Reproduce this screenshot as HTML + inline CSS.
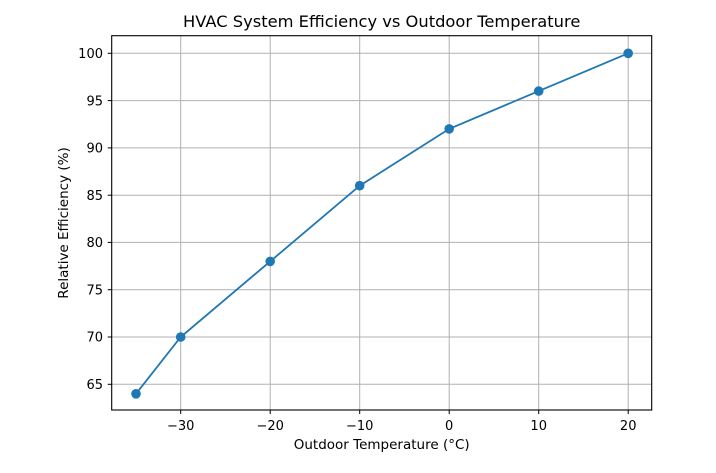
<!DOCTYPE html>
<html><head><style>body{margin:0;background:#fff}</style></head><body>
<svg width="716" height="468" xmlns="http://www.w3.org/2000/svg" font-family="DejaVu Sans, Liberation Sans, sans-serif">
<rect width="716" height="468" fill="#fff"/>
<g stroke="#b0b0b0" stroke-width="1">
<line x1="180.7" y1="35.7" x2="180.7" y2="410"/>
<line x1="270.2" y1="35.7" x2="270.2" y2="410"/>
<line x1="359.7" y1="35.7" x2="359.7" y2="410"/>
<line x1="449.2" y1="35.7" x2="449.2" y2="410"/>
<line x1="538.7" y1="35.7" x2="538.7" y2="410"/>
<line x1="628.2" y1="35.7" x2="628.2" y2="410"/>
<line x1="111.7" y1="53.3" x2="651.7" y2="53.3"/>
<line x1="111.7" y1="100.6" x2="651.7" y2="100.6"/>
<line x1="111.7" y1="147.9" x2="651.7" y2="147.9"/>
<line x1="111.7" y1="195.2" x2="651.7" y2="195.2"/>
<line x1="111.7" y1="242.4" x2="651.7" y2="242.4"/>
<line x1="111.7" y1="289.7" x2="651.7" y2="289.7"/>
<line x1="111.7" y1="337.0" x2="651.7" y2="337.0"/>
<line x1="111.7" y1="384.3" x2="651.7" y2="384.3"/>
</g>
<rect x="111.7" y="35.7" width="540" height="374.3" fill="none" stroke="#000" stroke-width="1.1"/>
<g stroke="#000" stroke-width="1">
<line x1="180.7" y1="410" x2="180.7" y2="414"/><line x1="270.2" y1="410" x2="270.2" y2="414"/><line x1="359.7" y1="410" x2="359.7" y2="414"/><line x1="449.2" y1="410" x2="449.2" y2="414"/><line x1="538.7" y1="410" x2="538.7" y2="414"/><line x1="628.2" y1="410" x2="628.2" y2="414"/>
<line x1="107.7" y1="53.3" x2="111.7" y2="53.3"/><line x1="107.7" y1="100.6" x2="111.7" y2="100.6"/><line x1="107.7" y1="147.9" x2="111.7" y2="147.9"/><line x1="107.7" y1="195.2" x2="111.7" y2="195.2"/><line x1="107.7" y1="242.4" x2="111.7" y2="242.4"/><line x1="107.7" y1="289.7" x2="111.7" y2="289.7"/><line x1="107.7" y1="337.0" x2="111.7" y2="337.0"/><line x1="107.7" y1="384.3" x2="111.7" y2="384.3"/>
</g>
<g font-size="13" fill="#000" text-anchor="middle">
<text x="180.7" y="430">−30</text><text x="270.2" y="430">−20</text><text x="359.7" y="430">−10</text><text x="449.2" y="430">0</text><text x="538.7" y="430">10</text><text x="628.2" y="430">20</text>
</g>
<g font-size="13" fill="#000" text-anchor="end">
<text x="103" y="58">100</text><text x="103" y="105.3">95</text><text x="103" y="152.6">90</text><text x="103" y="199.9">85</text><text x="103" y="247.1">80</text><text x="103" y="294.4">75</text><text x="103" y="341.7">70</text><text x="103" y="389">65</text>
</g>
<text x="381.7" y="449" font-size="13.5" text-anchor="middle">Outdoor Temperature (°C)</text>
<text transform="translate(68,223) rotate(-90)" font-size="13.5" text-anchor="middle">Relative Efficiency (%)</text>
<text x="381.7" y="27" font-size="16.3" text-anchor="middle">HVAC System Efficiency vs Outdoor Temperature</text>
<polyline fill="none" stroke="#1f77b4" stroke-width="1.8" points="136,393.8 180.7,337.0 270.2,261.4 359.7,185.7 449.2,128.9 538.7,91.1 628.2,53.3"/>
<g fill="#1f77b4">
<circle cx="136" cy="393.8" r="4.8"/><circle cx="180.7" cy="337.0" r="4.8"/><circle cx="270.2" cy="261.4" r="4.8"/><circle cx="359.7" cy="185.7" r="4.8"/><circle cx="449.2" cy="128.9" r="4.8"/><circle cx="538.7" cy="91.1" r="4.8"/><circle cx="628.2" cy="53.3" r="4.8"/>
</g>
</svg>
</body></html>
